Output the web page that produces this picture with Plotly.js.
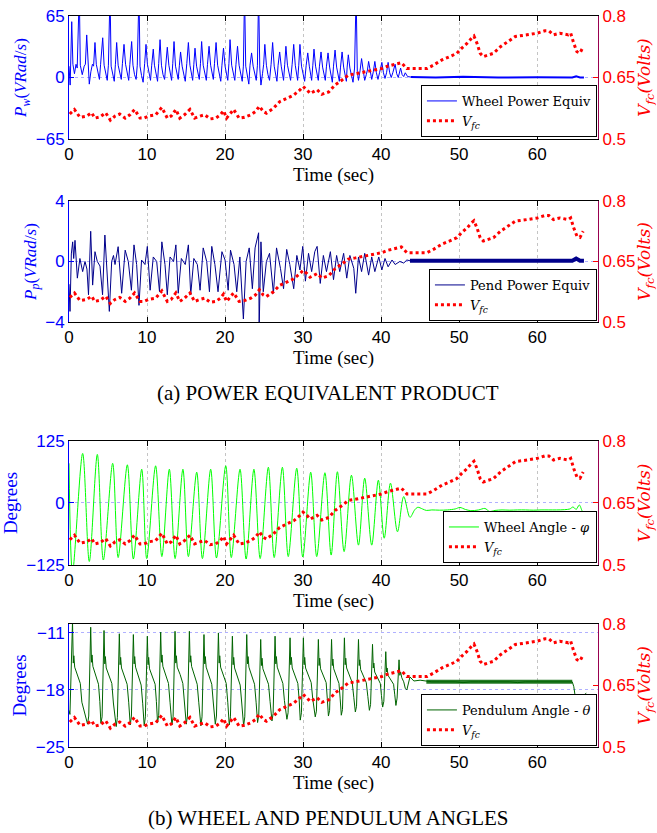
<!DOCTYPE html>
<html><head><meta charset="utf-8">
<script src="https://cdn.plot.ly/plotly-3.0.1.min.js"></script>
<style>html,body{margin:0;padding:0;background:#fff}#chart{width:657px;height:833px}</style>
</head><body><div id="chart"></div>
<script>
// ---- shared fuel-cell voltage series ----
const t_vfc = [0.1,0.7,1.4,2.3,2.9,3.3,4.0,4.7,5.3,5.9,6.5,7.2,7.8,8.4,9.1,9.6,10.2,11.1,11.9,12.6,13.1,13.7,14.2,14.8,15.5,16.1,16.8,17.4,18.1,18.8,19.4,19.8,20.2,21.1,21.8,22.5,23.3,23.9,24.4,24.9,25.3,26.2,27.0,27.9,28.8,29.6,30.0,30.5,30.9,31.8,32.4,33.3,34.1,35.0,35.8,36.7,37.5,38.4,39.2,40.1,40.9,41.8,42.6,43.3,44.5,45.9,46.7,47.8,48.8,49.7,50.3,51.0,51.6,51.9,52.3,52.7,53.1,54.4,55.3,56.5,57.2,58.7,60.0,61.0,61.5,62.1,62.9,64.0,64.3,64.7,65.1,65.5,65.9];
const v_fc = [0.561,0.572,0.553,0.556,0.564,0.551,0.554,0.564,0.546,0.556,0.561,0.551,0.559,0.572,0.551,0.551,0.556,0.559,0.577,0.551,0.556,0.572,0.551,0.559,0.572,0.551,0.556,0.559,0.549,0.551,0.559,0.569,0.551,0.572,0.551,0.553,0.559,0.567,0.58,0.567,0.563,0.575,0.591,0.599,0.607,0.620,0.628,0.620,0.611,0.620,0.609,0.615,0.632,0.644,0.656,0.659,0.662,0.664,0.668,0.672,0.678,0.683,0.686,0.672,0.672,0.672,0.680,0.693,0.701,0.709,0.721,0.733,0.746,0.751,0.733,0.709,0.701,0.709,0.725,0.741,0.750,0.754,0.758,0.764,0.764,0.754,0.758,0.754,0.758,0.733,0.713,0.710,0.725];

// ---- wheel power equivalent ----
const t_pw = [0.0,0.15,0.35,0.5,0.7,0.9,1.05,1.32,1.45,1.7,1.95,2.1,2.27,2.45,2.6,2.8,3.0,3.15,3.33,3.5,3.7,3.9,4.05,4.32,4.5,4.7,4.9,5.05,5.26,5.4,5.6,5.8,5.95,6.11,6.3,6.5,6.7,6.85,7.05,7.25,7.45,7.65,7.8,8.03,8.2,8.4,8.6,8.75,8.97,9.1,9.3,9.5,9.7,9.87,10.05,10.25,10.45,10.6,10.8,10.95,11.15,11.35,11.5,11.67,11.85,12.05,12.25,12.4,12.6,12.8,13.0,13.15,13.3,13.46,13.65,13.85,14.0,14.15,14.3,14.5,14.7,14.9,15.1,15.3,15.5,15.7,15.85,16.0,16.15,16.35,16.55,16.7,16.85,17.0,17.2,17.4,17.6,17.75,17.95,18.15,18.35,18.5,18.65,18.85,19.05,19.25,19.45,19.6,19.8,20.0,20.2,20.35,20.5,20.64,20.85,21.05,21.25,21.4,21.6,21.8,22.0,22.2,22.35,22.5,22.65,22.85,23.05,23.2,23.4,23.6,23.8,24.0,24.15,24.3,24.45,24.6,24.8,24.95,25.1,25.3,25.5,25.7,25.9,26.1,26.3,26.5,26.65,26.8,27.0,27.2,27.35,27.5,27.65,27.8,28.0,28.2,28.4,28.6,28.8,29.0,29.15,29.3,29.45,29.6,29.8,30.0,30.2,30.4,30.6,30.8,30.95,31.1,31.25,31.4,31.6,31.8,31.95,32.1,32.3,32.5,32.7,32.85,33.0,33.2,33.4,33.6,33.75,33.9,34.1,34.3,34.5,34.65,34.8,35.0,35.2,35.4,35.55,35.65,35.8,36.0,36.2,36.4,36.6,36.8,36.95,37.1,37.3,37.5,37.7,37.9,38.1,38.25,38.4,38.6,38.8,39.0,39.2,39.4,39.6,39.8,40.1,40.3,40.5,40.7,40.9,41.1,41.3,41.5,41.8,42.0,42.2,42.5,42.7,42.9,43.1,43.4,43.8];
const pw = [12,-8,59,14,4,14,10,90,13,3,12,14,45,14,-7,6,14,12,37,14,4,-2,14,42,13,4,-3,13,90,12,3,-4,14,37,13,4,-2,15,35,14,3,-3,14,38,13,3,-2,13,90,12,2,-5,15,35,14,4,-3,13,30,13,3,-4,15,40,13,3,-2,14,32,13,3,-3,15,38,12,3,-2,13,27,12,3,-4,15,37,13,3,-3,14,31,12,3,-2,15,38,13,3,-3,14,33,13,3,-2,15,37,13,3,-4,13,31,12,3,-3,15,40,13,3,-3,14,33,13,3,-4,12,90,12,2,-7,13,26,12,3,-3,13,90,10,-8,4,14,35,13,3,-3,14,37,12,3,-4,13,27,12,3,-3,14,33,13,3,-3,14,35,13,3,-3,13,35,12,3,-4,13,26,12,3,-3,13,30,12,3,-3,12,27,11,3,-3,12,26,11,3,-5,12,29,11,3,-4,11,27,11,3,-4,11,24,10,2,-5,10,90,6,-3,7,20,8,-3,3,8,17,6,-2,6,17,5,-2,5,16,5,-1,5,16,5,0,5,14,4,0,10,3,1,5,1,0.5];
const t_pw_rest = [43.8,47.0,50.5,55.0,60.0,64.5,65.0,65.5,66.0];
const pw_rest = [0.5,0,0.8,0,0.3,0,1.2,0,0];

// ---- pendulum power equivalent ----
const t_pp = [0.0,0.13,0.3,0.47,0.6,0.77,1.07,1.4,1.75,2.05,2.3,2.5,2.78,3.03,3.33,3.63,3.97,4.3,4.6,4.9,5.17,5.47,5.7,5.9,6.3,6.75,7.2,7.6,8.0,8.33,8.67,8.97,9.3,9.74,10.04,10.4,10.8,11.24,11.6,11.9,12.3,12.6,12.95,13.4,13.7,14.0,14.4,14.9,15.3,15.6,16.0,16.45,16.8,17.2,17.65,18.0,18.3,18.7,19.1,19.6,20.0,20.4,20.7,21.15,21.5,21.9,22.35,22.7,23.1,23.5,23.85,24.3,24.37,24.6,24.9,25.3,25.7,26.2,26.6,27.1,27.5,27.9,28.3,28.8,29.2,29.6,29.96,30.3,30.7,31.1,31.5,31.8,32.2,32.6,33.0,33.5,33.9,34.3,34.7,35.2,35.6,36.0,36.5,36.75,37.1,37.5,37.9,38.4,38.8,39.2,39.7,40.1,40.5,40.9,41.4,41.8,42.4,42.9,43.3,43.7];
const pp = [-1.5,-3.3,0.5,1.3,0.2,1.4,-1.1,0.2,-0.67,0.0,-0.5,-2.2,2.0,-1.56,0.65,0.0,-0.3,-2.2,1.75,-0.67,-3.3,0.0,0.4,-0.2,0.98,-2.1,0.75,0.0,-1.9,1.1,-0.2,-2.9,0.1,-0.2,1.0,-1.9,0.3,0.0,-2.0,1.3,-0.2,-2.2,0.3,0.0,1.1,-2.1,0.2,-0.2,1.1,-2.2,0.2,-0.2,-1.9,0.9,0.0,-2.0,1.0,-0.2,-2.0,0.65,0.1,-1.9,0.75,-0.2,-2.0,0.3,-3.8,0.0,0.9,-1.8,0.9,1.9,-4.5,1.3,-2.0,0.0,0.54,-2.1,0.9,-0.45,-1.8,0.8,-0.2,-1.8,0.4,-0.56,1.0,-1.3,0.54,-0.67,0.65,1.0,-1.45,0.4,-0.67,0.65,-1.2,0.4,-0.67,0.54,-1.1,0.4,-0.45,-2.1,0.3,-0.67,0.54,-0.9,0.3,-0.67,0.3,-0.56,0.2,-0.35,0.1,-0.2,0.0,-0.1,0.1,0.05];
const t_pp_rest = [43.7,50.0,55.0,60.0,64.5,65.0,65.5,66.0];
const pp_rest = [0.05,0.05,0.05,0.05,0.05,0.2,0.05,0.05];

// ---- wheel angle phi ----
const t_phi = [0.0,0.45,1.75,2.6,3.63,4.4,5.6,6.3,7.48,8.25,9.32,9.96,11.1,11.9,12.86,13.6,14.6,15.3,16.37,17.1,18.16,18.9,20.09,20.8,21.92,22.7,23.7,24.5,25.55,26.3,27.35,28.1,29.19,29.96,30.98,31.75,32.8,33.6,34.4,35.26,36.2,37.1,37.9,38.8,39.65,40.4,41.2,42.1,42.9,43.7,44.3,44.7,45.3,45.8,46.5,47.5,48.5,49.5,50.1,50.8,51.5,52.5,53.3,53.9,54.6,55.5,56.5,57.5,58.5,59.5,60.5,61.5,62.5,63.5,64.2,64.6,65.0,65.4,65.8,66.3];
const phi = [80,-140,100,-118,98,-115,80,-110,77,-113,68,-112,75,-108,68,-112,68,-108,62,-112,68,-111,75,-110,68,-113,68,-112,72,-110,72,-108,70,-109,62,-108,61,-105,63,-98,56,-85,50,-85,46,-71,40,-58,13,-29,-14,-8.7,-12,-15,-14,-14.5,-14,-12,-9,-13,-15.5,-14,-11,-17,-15,-14,-14.5,-14,-14,-14.5,-14,-14,-14,-13.5,-12,-8,-13,-4,-17,-27];

// ---- pendulum angle theta ----
const t_theta = [0.0,0.12,0.45,0.55,0.62,0.73,1.1,1.45,1.65,2.38,2.53,
2.78,2.88,2.95,3.06,3.43,3.78,3.95,4.09,4.24,
4.49,4.59,4.66,4.77,5.14,5.49,5.69,6.05,6.2,
6.45,6.55,6.62,6.73,7.1,7.45,7.65,7.85,8.0,
8.25,8.35,8.42,8.53,8.9,9.25,9.45,9.64,9.79,
10.04,10.14,10.21,10.32,10.69,11.04,11.2,11.35,11.5,
11.75,11.85,11.92,12.03,12.4,12.75,12.95,13.19,13.34,
13.59,13.69,13.76,13.87,14.24,14.59,14.79,15.03,15.18,
15.43,15.53,15.6,15.71,16.08,16.43,16.63,16.9,17.05,
17.3,17.4,17.47,17.58,17.95,18.3,18.5,18.75,18.9,
19.15,19.25,19.32,19.43,19.8,20.15,20.35,20.54,20.69,
20.94,21.04,21.11,21.22,21.59,21.94,22.14,22.38,22.53,
22.78,22.88,22.95,23.06,23.43,23.78,23.98,24.17,24.32,
24.57,24.67,24.74,24.85,25.22,25.57,25.77,26.01,26.16,
26.41,26.51,26.58,26.69,27.06,27.41,27.61,27.93,28.08,
28.33,28.43,28.5,28.61,28.98,29.33,29.5,29.64,29.79,
30.04,30.14,30.21,30.32,30.69,31.04,31.24,31.56,31.71,
31.96,32.06,32.13,32.24,32.61,32.96,33.1,33.25,33.4,
33.65,33.75,33.82,33.93,34.3,34.6,34.75,34.9,35.05,
35.3,35.4,35.47,35.58,35.95,36.3,36.5,36.7,36.85,
37.1,37.2,37.27,37.38,37.75,38.1,38.3,38.5,38.65,
38.9,39.0,39.07,39.18,39.55,39.9,40.05,40.2,40.35,
40.6,40.7,40.77,40.88,41.25,41.6,41.75,41.9,42.05,
42.3,42.4,42.5,42.65,42.9,43.1,43.3,
43.7,44.2,45.0,45.8,46.5,47.5,48.5,49.5,50.5,51.5,52.5,53.5,54.5,55.5,56.5,57.5,58.5,59.5,60.5,61.5,62.5,63.5,64.5,64.7,65.0,65.3,65.6,66.0,66.3];
const theta = [-20.5,-21.0,-9.6,-14.7,-13.8,-15.2,-16.2,-17.2,-19.5,-22.2,-21.2,
-10.3,-14.6,-13.7,-15.1,-16.2,-17.3,-19.4,-22.1,-21.3,
-10.7,-14.8,-13.9,-15.3,-16.3,-17.2,-19.6,-22.5,-21.4,
-11.1,-14.9,-14.0,-15.3,-16.2,-17.3,-19.5,-22.3,-21.2,
-11.2,-14.8,-13.9,-15.2,-16.3,-17.4,-19.7,-22.4,-21.3,
-11.4,-14.9,-14.0,-15.4,-16.3,-17.3,-19.4,-22.0,-21.1,
-10.9,-14.6,-13.7,-15.1,-16.2,-17.2,-19.5,-22.3,-21.3,
-10.8,-14.7,-13.8,-15.2,-16.1,-17.2,-19.6,-22.2,-21.2,
-10.8,-14.6,-13.8,-15.1,-16.2,-17.3,-19.5,-22.4,-21.3,
-11.2,-14.8,-13.9,-15.2,-16.3,-17.3,-19.6,-22.2,-21.2,
-11.0,-14.7,-13.8,-15.2,-16.2,-17.2,-19.5,-22.3,-21.3,
-11.4,-14.9,-14.0,-15.3,-16.3,-17.4,-19.6,-22.4,-21.3,
-11.2,-14.8,-13.9,-15.2,-16.2,-17.3,-19.5,-22.0,-21.1,
-11.8,-15.0,-14.1,-15.4,-16.3,-17.3,-19.4,-21.8,-20.9,
-11.4,-14.8,-13.9,-15.2,-16.2,-17.2,-19.3,-21.6,-20.8,
-11.6,-14.9,-14.0,-15.3,-16.2,-17.2,-19.2,-21.7,-20.8,
-11.6,-14.9,-14.0,-15.3,-16.2,-17.1,-19.1,-21.3,-20.6,
-11.8,-15.0,-14.1,-15.4,-16.2,-17.1,-19.0,-21.2,-20.5,
-11.8,-15.0,-14.2,-15.4,-16.3,-17.2,-19.0,-21.1,-20.4,
-11.6,-14.9,-14.1,-15.3,-16.2,-17.1,-18.9,-20.7,-20.0,
-11.8,-15.0,-14.3,-15.5,-16.3,-17.1,-18.8,-20.5,-19.8,
-12.4,-15.3,-14.7,-15.8,-16.5,-17.2,-18.7,-20.1,-19.4,
-13.3,-15.8,-15.3,-16.2,-16.7,-17.3,-18.6,-19.9,-19.0,
-14.3,-16.2,-15.8,-16.5,-17.0,-17.8,-18.0,
-16.4,-16.9,-16.8,-16.9,-17.0,-17.0,-17.0,-17.0,-17.1,-17.0,-17.0,-17.0,-17.0,-17.0,-17.0,-17.1,-17.0,-17.0,-17.0,-17.0,-17.0,-17.0,-17.0,-17.6,-19.6,-18.8,-19.5,-18.6,-18.4];
const t_theta_band = [45.8,64.5];
const theta_band = [-17.0,-17.0];

// ---- ticks and labels ----
const xTicks = [0,10,20,30,40,50,60];
const pwTicks = [-65,0,65];
const ppTicks = [-4,0,4];
const phiTicks = [-125,0,125];
const thetaTicks = [-25,-18,-11];
const vTicks = [0.5,0.65,0.8];
const names = ['Wheel Power Equiv','Pend Power Equiv','Wheel Angle - <i>φ</i>','Pendulum Angle - <i>θ</i>'];
const vName = '<i>V<sub>fc</sub></i>';
const captions = ['(a) POWER EQUIVALENT PRODUCT','(b) WHEEL AND PENDULUM ANGLES'];

const SANS = 'Liberation Sans, Arial, sans-serif';
const SERIF = 'DejaVu Serif, serif';
const TIMES = 'Liberation Serif, Times New Roman, serif';
const BLUE = '#0000ff', RED = '#ff0000';

function xa(anchor){
  return {domain:[0,1], anchor:anchor, range:[0,67.8], tickvals:xTicks, ticks:'inside', ticklen:5,
    tickcolor:'#000', showline:true, linecolor:'#000', linewidth:1, mirror:'ticks',
    showgrid:true, gridcolor:'#c4c4c4', griddash:'dot', zeroline:false,
    tickfont:{family:SANS,size:17,color:'#000'},
    title:{text:'Time (sec)', font:{family:TIMES,size:19,color:'#000'}, standoff:0}};
}
function yl(domain, range, ticks, title, anchor, fs){
  return {domain:domain, range:range, tickvals:ticks, anchor:anchor, ticks:'inside', ticklen:5,
    tickcolor:BLUE, showline:true, linecolor:BLUE, linewidth:1,
    showgrid:true, gridcolor:'#b0b0ff', griddash:'dot', zeroline:false,
    tickfont:{family:SANS,size:17,color:BLUE},
    title:{text:title, font:{family:TIMES,size:fs,color:BLUE}, standoff:4}};
}
function yr(over, anchor){
  return {overlaying:over, side:'right', anchor:anchor, range:[0.5,0.8], tickvals:vTicks,
    ticks:'inside', ticklen:5, tickcolor:RED, showline:true, linecolor:'#990050', linewidth:1,
    showgrid:false, zeroline:false, tickfont:{family:SANS,size:17,color:RED},
    title:{text:'<i>V<sub>fc</sub>(Volts)</i>', font:{family:SERIF,size:17,color:RED}, standoff:4}};
}
function lg(y){
  return {x:0.998, y:y, xanchor:'right', yanchor:'bottom', bgcolor:'#fff', bordercolor:'#000', borderwidth:1,
    font:{family:SERIF,size:13,color:'#000'}, itemwidth:30, tracegroupgap:0};
}
function vTrace(xax, yax, leg){
  return {x:t_vfc, y:v_fc, xaxis:xax, yaxis:yax, legend:leg, name:vName, mode:'lines',
    line:{color:RED, width:3, dash:'dot'}};
}

const traces = [
  {x:t_pw, y:pw, xaxis:'x', yaxis:'y', legend:'legend', name:names[0], mode:'lines', line:{color:BLUE,width:1}},
  {x:t_pw_rest, y:pw_rest, xaxis:'x', yaxis:'y', legend:'legend', showlegend:false, mode:'lines', line:{color:BLUE,width:2}},
  vTrace('x','y2','legend'),
  {x:t_pp, y:pp, xaxis:'x2', yaxis:'y3', legend:'legend2', name:names[1], mode:'lines', line:{color:'#00008b',width:1}},
  {x:t_pp_rest, y:pp_rest, xaxis:'x2', yaxis:'y3', legend:'legend2', showlegend:false, mode:'lines', line:{color:'#00008b',width:4}},
  vTrace('x2','y4','legend2'),
  {x:t_phi, y:phi, xaxis:'x3', yaxis:'y5', legend:'legend3', name:names[2], mode:'lines', line:{color:'#00ff00',width:1, shape:'spline', smoothing:0.9}},
  vTrace('x3','y6','legend3'),
  {x:t_theta, y:theta, xaxis:'x4', yaxis:'y7', legend:'legend4', name:names[3], mode:'lines', line:{color:'#006400',width:1}},
  {x:t_theta_band, y:theta_band, xaxis:'x4', yaxis:'y7', legend:'legend4', showlegend:false, mode:'lines', line:{color:'#006400',width:4}, opacity:0.85},
  vTrace('x4','y8','legend4')
];

const layout = {
  width:657, height:833, margin:{l:69, r:59, t:16, b:86},
  paper_bgcolor:'#fff', plot_bgcolor:'#fff', showlegend:true,
  xaxis: xa('y'), xaxis2: xa('y3'), xaxis3: xa('y5'), xaxis4: xa('y7'),
  yaxis: yl([0.8317,1.0],[-65,65],pwTicks,'<i>P<sub>w</sub></i>(<i>VRad</i>/<i>s</i>)','x',17),
  yaxis2: yr('y','x'),
  yaxis3: yl([0.5814,0.7469],[-4,4],ppTicks,'<i>P<sub>p</sub></i>(<i>VRad</i>/<i>s</i>)','x2',17),
  yaxis4: yr('y3','x2'),
  yaxis5: yl([0.2490,0.4186],[-125,125],phiTicks,'Degrees','x3',19),
  yaxis6: yr('y5','x3'),
  yaxis7: yl([0,0.1683],[-25,-9.9],thetaTicks,'Degrees','x4',19),
  yaxis8: yr('y7','x4'),
  legend: lg(0.8345), legend2: lg(0.5828), legend3: lg(0.2517), legend4: lg(0.0014),
  annotations: [
    {text:captions[0], xref:'paper', yref:'paper', x:0.4905, y:0.484, xanchor:'center', yanchor:'middle', showarrow:false, font:{family:TIMES,size:21,color:'#000'}},
    {text:captions[1], xref:'paper', yref:'paper', x:0.4905, y:-0.0965, xanchor:'center', yanchor:'middle', showarrow:false, font:{family:TIMES,size:21,color:'#000'}}
  ]
};

Plotly.newPlot('chart', traces, layout, {staticPlot:true, displayModeBar:false});
</script>
</body></html>
